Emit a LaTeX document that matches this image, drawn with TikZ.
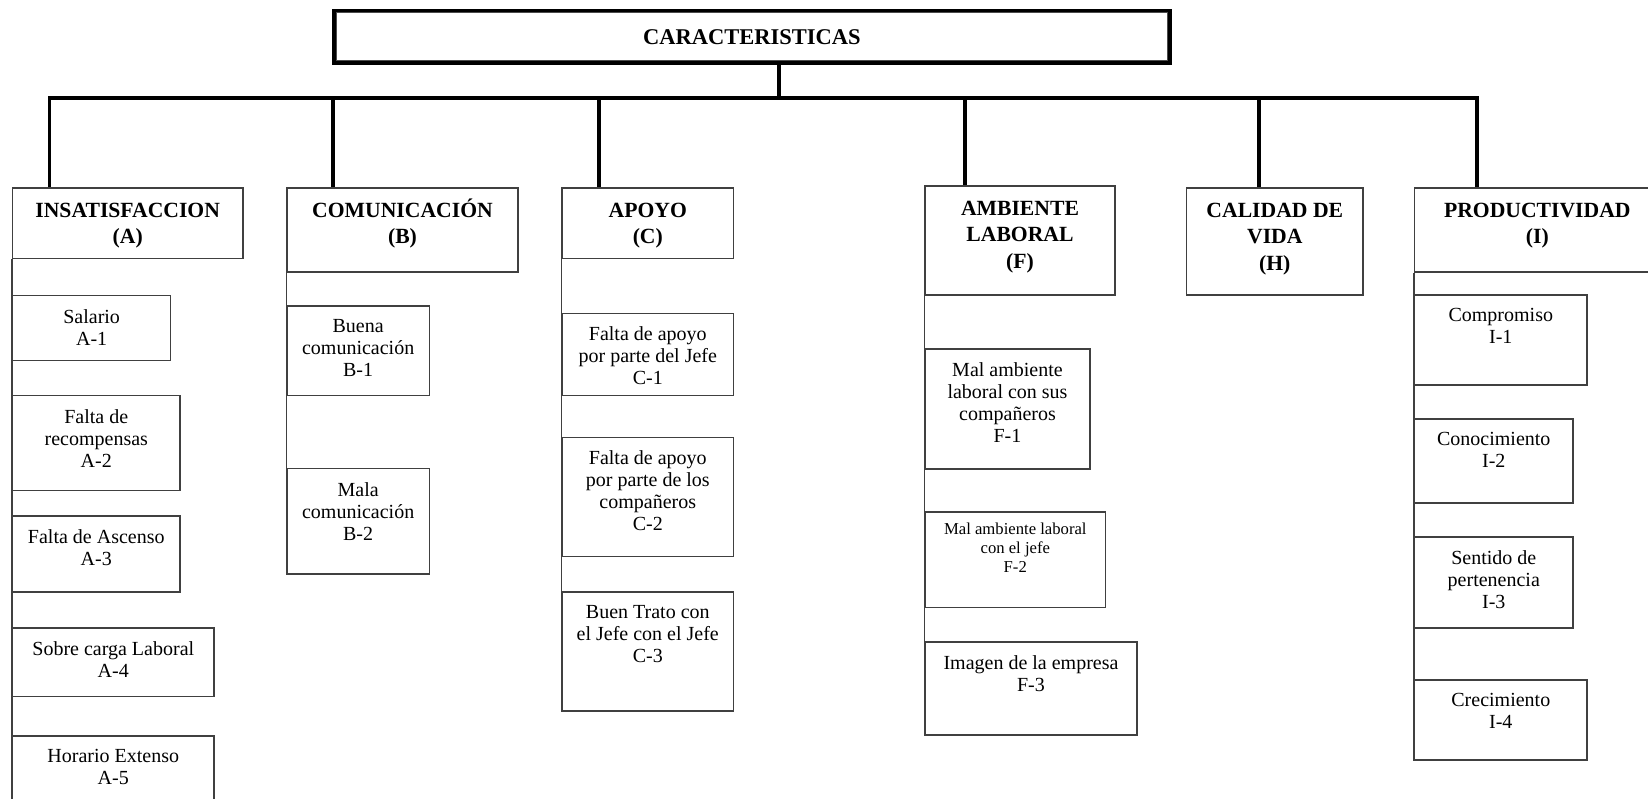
\documentclass[tikz,border=0pt]{standalone}
\usepackage{fontspec}
\setmainfont{Liberation Serif}
\usetikzlibrary{positioning,fit}

\tikzset{
  caja/.style={draw=black!75, line width=0.9pt, inner sep=0pt},
  rama/.style={draw=black!75, line width=0.9pt},
  tallo/.style={draw=black, line width=2.2pt},
  htext/.style={align=center, inner sep=0pt, font=\fontsize{13}{15.7}\selectfont\bfseries},
  ctext/.style={align=center, inner sep=0pt, font=\fontsize{12}{13.2}\selectfont},
  stext/.style={align=center, inner sep=0pt, yshift=1.6pt, font=\fontsize{10}{11.4}\selectfont}
}

\begin{document}
\begin{tikzpicture}[x=0.6pt,y=-0.6pt]
\useasboundingbox (0,0) rectangle (1648,799);
\clip (0,0) rectangle (1648,799);

% titulo
\node[caja, draw=black, line width=2pt, fit={(334,10.5) (1170,63)}] (top) {};
\draw[line width=0.6pt, black!70] ([shift={(4,4)}]top.north west) rectangle ([shift={(-4,-4)}]top.south east);
\node[font=\fontsize{13.5}{16}\selectfont\bfseries] (top-t) at (top.center) {CARACTERISTICAS};

\coordinate (bus) at (779,97.7);
\draw[tallo] (top.south -| bus) -- (bus);

% categorias
\foreach \nm/\sx/\xa/\ya/\xb/\yb/\txt in {
  A/49.4/12.6/188/242.8/258.5/{INSATISFACCION\\(A)},
  B/333/287/188/518/272/{COMUNICACI\smash{Ó}N\\(B)},
  C/599/562/188/733.6/258.5/{APOYO\\(C)},
  F/965/925/186/1115/295/{AMBIENTE\\LABORAL\\(F)},
  H/1259/1186.6/188/1363/295/{CALIDAD DE\\VIDA\\(H)},
  I/1477/1414.6/188/1660/272/{PRODUCTIVIDAD\\(I)}}
{
  \node[caja, fit={(\xa,\ya) (\xb,\yb)}] (\nm) {};
  \node[htext, below=9.5pt of \nm.north] (\nm-t) {\txt};
  \coordinate (\nm-s) at (\sx,97.7);
  \draw[tallo] (\nm-s) -- (\nm-s |- \nm.north);
}
\draw[tallo, line cap=rect] (A-s) -- (I-s);

% subcategorias
\foreach \nm/\xa/\ya/\xb/\yb/\sty/\txt in {
  A1/12.6/295.7/170.7/360.7/ctext/{Salario\\A-1},
  A2/12.6/395.7/180/490.7/ctext/{Falta de\\recompensas\\A-2},
  A3/12.6/516/180/592/ctext/{Falta de Ascenso\\A-3},
  A4/12.6/628/214/696.7/ctext/{Sobre carga Laboral\\A-4},
  A5/12.6/736/214/810/ctext/{Horario Extenso\\A-5},
  B1/287/306/429.3/395.3/ctext/{Buena\\comunicación\\B-1},
  B2/287/468.7/429.3/574/ctext/{Mala\\comunicación\\B-2},
  C1/562/313.3/733.6/395.3/ctext/{Falta de apoyo\\por parte del Jefe\\C-1},
  C2/562/437.3/733.6/556.7/ctext/{Falta de apoyo\\por parte de los\\compañeros\\C-2},
  C3/562/592/733.6/711/ctext/{Buen Trato con\\el Jefe con el Jefe\\C-3},
  F1/925/349/1090/469/ctext/{Mal ambiente\\laboral con sus\\compañeros\\F-1},
  F2/925/512/1105.6/607.5/stext/{Mal ambiente laboral\\con el jefe\\F-2},
  F3/925/642/1137/735/ctext/{Imagen de la empresa\\F-3},
  I1/1414.6/295/1587/385/ctext/{Compromiso\\I-1},
  I2/1414.6/419/1573/503/ctext/{Conocimiento\\I-2},
  I3/1414.6/537/1573/628/ctext/{Sentido de\\pertenencia\\I-3},
  I4/1414.6/680/1587/760/ctext/{Crecimiento\\I-4}}
{
  \node[caja, fit={(\xa,\ya) (\xb,\yb)}] (\nm) {};
  \node[\sty, below=8.4pt of \nm.north] (\nm-t) {\txt};
}

\foreach \h/\ult in {A/A5,B/B2,C/C3,F/F3,I/I4}
  \draw[rama] (\h.south west) -- (\ult.south west);
\end{tikzpicture}
\end{document}
